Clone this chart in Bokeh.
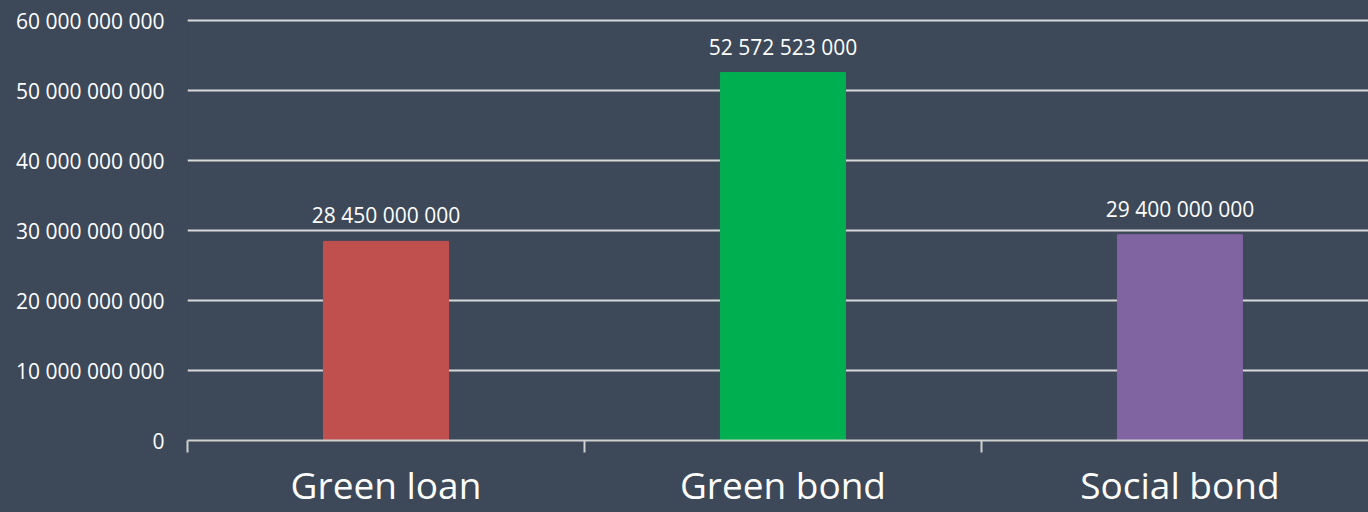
from bokeh.plotting import figure
from bokeh.models import ColumnDataSource, Range1d, FixedTicker, CustomJSTickFormatter, LabelSet
from bokeh.core.properties import value
from bokeh.embed import file_html
from bokeh.resources import INLINE

categories = ["Green loan", "Green bond", "Social bond"]
values = [28450000000, 52572523000, 29400000000]
colors = ["#C0504D", "#00B050", "#8064A2"]
y_ticks = [0, 10000000000, 20000000000, 30000000000, 40000000000, 50000000000, 60000000000]

BG = "#3D4859"
FONT = "Open Sans"

xs = [i + 0.5 for i in range(len(categories))]
labels = [f"{v:,}".replace(",", " ") for v in values]
src = ColumnDataSource(dict(x=xs, top=values, color=colors, label=labels))

p = figure(width=1368, height=512, output_backend="svg", toolbar_location=None,
           x_range=Range1d(0, 2.975), y_range=Range1d(0, 60300000000),
           min_border_left=187, min_border_right=0, min_border_top=18, min_border_bottom=72)
p.background_fill_color = BG
p.border_fill_color = BG
p.outline_line_color = None
p.styles = {"background-color": BG}

p.vbar(x="x", top="top", width=0.315, color="color", source=src)

lbl = LabelSet(x="x", y="top", text="label", source=src, text_align="center",
               text_baseline="alphabetic", y_offset=18, text_color="white",
               text_font_size="21px", text_font=value(FONT))
p.add_layout(lbl)

# x axis: category names centred, ticks at category boundaries
p.xaxis.ticker = FixedTicker(ticks=xs, minor_ticks=[0, 1, 2, 3])
p.xaxis.major_label_overrides = {x: c for x, c in zip(xs, categories)}
p.xaxis.major_tick_out = 0
p.xaxis.major_tick_in = 0
p.xaxis.minor_tick_out = 12
p.xaxis.minor_tick_in = 0
p.xaxis.minor_tick_line_color = "#D0D0D0"
p.xaxis.minor_tick_line_width = 2
p.xaxis.axis_line_color = "#D0D0D0"
p.xaxis.axis_line_width = 2
p.xaxis.major_label_text_color = "white"
p.xaxis.major_label_text_font_size = "37px"
p.xaxis.major_label_text_font = FONT
p.xaxis.major_label_standoff = 6

# y axis
p.yaxis.ticker = FixedTicker(ticks=y_ticks)
p.yaxis.formatter = CustomJSTickFormatter(code="return tick.toFixed(0).replace(/\\B(?=(\\d{3})+(?!\\d))/g, ' ');")
p.yaxis.axis_line_color = None
p.yaxis.major_tick_line_color = None
p.yaxis.minor_tick_line_color = None
p.yaxis.major_label_text_color = "white"
p.yaxis.major_label_text_font_size = "21px"
p.yaxis.major_label_text_font = FONT
p.yaxis.major_label_standoff = 17

p.xgrid.grid_line_color = None
p.ygrid.ticker = FixedTicker(ticks=y_ticks[1:])
p.ygrid.grid_line_color = "#D9D9D9"
p.ygrid.grid_line_width = 2

open("out.html", "w").write(file_html(p, INLINE))
